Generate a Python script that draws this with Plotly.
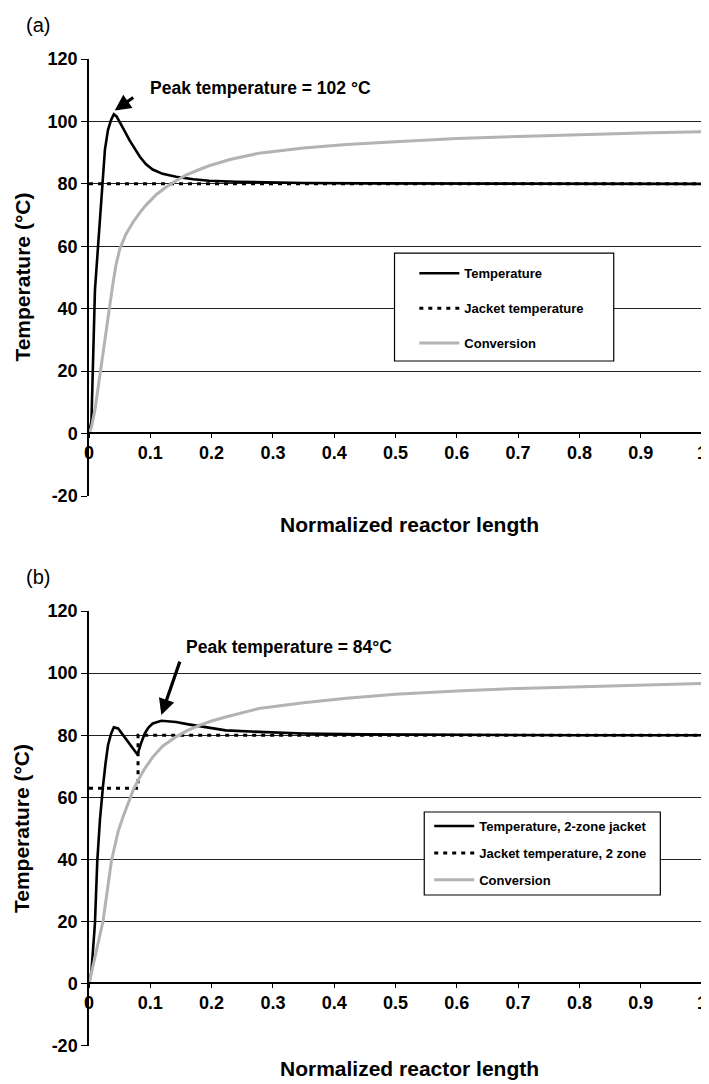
import plotly.graph_objects as go

# ---------------- data: panel (a) ----------------
a_temp_x = [0, 0.004, 0.0097, 0.015, 0.0178, 0.022, 0.026, 0.031, 0.036, 0.0405, 0.045, 0.050,
            0.058, 0.066, 0.075, 0.083, 0.093, 0.104, 0.12, 0.142, 0.17, 0.196, 0.24, 0.277,
            0.35, 0.45, 0.6, 0.8, 1.0]
a_temp_y = [0, 4, 46, 62, 69.5, 80, 91, 97.3, 100.5, 102.3, 101.6, 100,
            97, 94, 91, 88.7, 86.3, 84.6, 83.2, 82.3, 81.5, 81.0, 80.7, 80.5,
            80.3, 80.15, 80.05, 80.0, 80.0]
a_jacket_x = [0, 1.0]
a_jacket_y = [80, 80]
a_conv_x = [0, 0.004, 0.01, 0.018, 0.026, 0.034, 0.039, 0.044, 0.05, 0.06, 0.072, 0.083, 0.093,
            0.11, 0.126, 0.142, 0.158, 0.18, 0.196, 0.23, 0.277, 0.35, 0.42, 0.5, 0.6, 0.7,
            0.8, 0.9, 1.0]
a_conv_y = [0, 2, 8, 19, 30, 42, 48, 54, 59, 63.8, 67.8, 70.8, 73.2,
            76.6, 79, 81, 82.8, 84.6, 85.8, 87.8, 89.8, 91.5, 92.6, 93.5, 94.5, 95.2,
            95.8, 96.3, 96.7]

# ---------------- data: panel (b) ----------------
b_temp_x = [0, 0.004, 0.0097, 0.0135, 0.0178, 0.0205, 0.023, 0.027, 0.031, 0.036, 0.0405, 0.0475,
            0.054, 0.061, 0.07, 0.079, 0.085, 0.091, 0.097, 0.104, 0.118, 0.142, 0.16, 0.18,
            0.223, 0.277, 0.35, 0.45, 0.6, 0.8, 1.0]
b_temp_y = [0, 4, 19.5, 39.5, 52.6, 60, 64, 71, 76.8, 80.5, 82.6, 82.2,
            80.5, 78.4, 76, 73.8, 77.5, 80.6, 82.5, 83.8, 84.7, 84.3, 83.6, 82.9,
            81.6, 81.1, 80.6, 80.3, 80.1, 80.0, 80.0]
b_jacket_x = [0, 0.08, 0.08, 1.0]
b_jacket_y = [63, 63, 80, 80]
b_conv_x = [0, 0.0097, 0.023, 0.0367, 0.0475, 0.056, 0.064, 0.072, 0.08, 0.09, 0.104, 0.12,
            0.142, 0.16, 0.18, 0.2, 0.223, 0.25, 0.277, 0.35, 0.42, 0.5, 0.6, 0.7, 0.8, 0.9, 1.0]
b_conv_y = [0, 8.5, 20.3, 39.7, 49, 54, 58.5, 62.3, 65.5, 69, 73, 76.5,
            79.5, 81.5, 83.2, 84.6, 85.9, 87.3, 88.6, 90.5, 91.9, 93.2, 94.3, 95.1, 95.7, 96.2, 96.7]

# ---------------- ticks / labels ----------------
x_ticks = [0, 0.1, 0.2, 0.3, 0.4, 0.5, 0.6, 0.7, 0.8, 0.9, 1.0]
x_ticktext = ["0", "0.1", "0.2", "0.3", "0.4", "0.5", "0.6", "0.7", "0.8", "0.9", "1"]
y_ticks = [-20, 0, 20, 40, 60, 80, 100, 120]
y_ticktext = ["-20", "0", "20", "40", "60", "80", "100", "120"]

FONT = "Liberation Sans, Arial, sans-serif"
BLACK = "#000000"
GRAY = "#b3b3b3"

fig = go.Figure()

def add_panel(xa, ya, leg, tx, ty, jx, jy, cx, cy, names, grp):
    fig.add_trace(go.Scatter(x=tx, y=ty, mode="lines", name=names[0], xaxis=xa, yaxis=ya,
                             legend=leg, legendgroup=grp + "1",
                             line=dict(color=BLACK, width=2.6)))
    fig.add_trace(go.Scatter(x=jx, y=jy, mode="lines", name=names[1], xaxis=xa, yaxis=ya,
                             legend=leg, legendgroup=grp + "2",
                             line=dict(color=BLACK, width=3, dash="4px,5px")))
    fig.add_trace(go.Scatter(x=cx, y=cy, mode="lines", name=names[2], xaxis=xa, yaxis=ya,
                             legend=leg, legendgroup=grp + "3",
                             line=dict(color=GRAY, width=3)))

add_panel("x", "y", "legend", a_temp_x, a_temp_y, a_jacket_x, a_jacket_y, a_conv_x, a_conv_y,
          ["Temperature", "Jacket temperature", "Conversion"], "a")
add_panel("x2", "y2", "legend2", b_temp_x, b_temp_y, b_jacket_x, b_jacket_y, b_conv_x, b_conv_y,
          ["Temperature, 2-zone jacket", "Jacket temperature, 2 zone", "Conversion"], "b")

tickfont = dict(family=FONT, size=18, color=BLACK, weight=700)

def xaxis_cfg(pos, overflow):
    return dict(domain=[0, 1], range=[0, 1], anchor="free", position=pos,
                showline=True, linecolor=BLACK, linewidth=1.5,
                ticks="outside", ticklen=4, tickcolor=BLACK, tickwidth=1,
                tickvals=x_ticks, ticktext=x_ticktext, tickfont=tickfont,
                ticklabeloverflow=overflow,
                showgrid=False, zeroline=False)

def yaxis_cfg(dom, xa):
    return dict(domain=dom, range=[-20, 120], anchor=xa,
                showline=True, linecolor=BLACK, linewidth=1.5,
                ticks="outside", ticklen=6, tickcolor=BLACK, tickwidth=1,
                tickvals=y_ticks, ticktext=y_ticktext, tickfont=tickfont,
                showgrid=True, gridcolor="#222222", gridwidth=1, zeroline=False)

legfont = dict(family=FONT, size=13, color=BLACK, weight=700)

fig.update_layout(
    width=701, height=1076,
    margin=dict(l=81, r=2, t=51, b=38),
    paper_bgcolor="white", plot_bgcolor="white",
    xaxis=xaxis_cfg(0.6211, "hide past div"),
    yaxis=yaxis_cfg([0.5572, 1.0], "x"),
    xaxis2=xaxis_cfg(0.0638, "allow"),
    yaxis2=yaxis_cfg([0.0, 0.4407], "x2"),
    legend=dict(x=0.5307, y=0.798, xanchor="left", yanchor="top",
                bgcolor="rgba(0,0,0,0)", borderwidth=0, font=legfont, itemwidth=40,
                traceorder="grouped", tracegroupgap=15),
    legend2=dict(x=0.5550, y=0.238, xanchor="left", yanchor="top",
                 bgcolor="rgba(0,0,0,0)", borderwidth=0, font=legfont, itemwidth=40,
                 traceorder="grouped", tracegroupgap=7),
    showlegend=True,
)

# legend frames and right border of panel (b)
fig.add_shape(type="rect", xref="paper", yref="paper", x0=0.4984, x1=0.8560, y0=0.6940, y1=0.8034,
              line=dict(color=BLACK, width=1.2), fillcolor="white", layer="above")
fig.add_shape(type="rect", xref="paper", yref="paper", x0=0.5469, x1=0.9320, y0=0.1530, y1=0.2371,
              line=dict(color=BLACK, width=1.2), fillcolor="white", layer="above")
fig.add_shape(type="line", xref="x2", yref="y2", x0=1, x1=1, y0=-20, y1=120,
              line=dict(color="#999999", width=1.2), layer="above")

titlefont = dict(family=FONT, size=21, color=BLACK, weight=700)
annfont = dict(family=FONT, size=17.5, color=BLACK, weight=700)
labfont = dict(family=FONT, size=20, color=BLACK)

anns = [
    dict(text="(a)", x=-0.1068, y=1.0344, xref="paper", yref="paper", xanchor="left",
         yanchor="middle", showarrow=False, font=labfont),
    dict(text="(b)", x=-0.1068, y=0.4752, xref="paper", yref="paper", xanchor="left",
         yanchor="middle", showarrow=False, font=labfont),
    dict(text="Temperature (°C)", x=-0.110, y=0.7791, xref="paper", yref="paper",
         xanchor="center", yanchor="middle",
         textangle=-90, showarrow=False, font=titlefont),
    dict(text="Temperature (°C)", x=-0.110, y=0.2204, xref="paper", yref="paper",
         xanchor="center", yanchor="middle",
         textangle=-90, showarrow=False, font=titlefont),
    dict(text="Normalized reactor length", x=0.523, y=0.5279, xref="paper", yref="paper",
         xanchor="center", yanchor="middle", showarrow=False, font=titlefont),
    dict(text="Normalized reactor length", x=0.523, y=-0.0223, xref="paper", yref="paper",
         xanchor="center", yanchor="middle", showarrow=False, font=titlefont),
    dict(text="Peak temperature = 102 °C", x=0.0955, y=0.9706, xref="paper", yref="paper",
         xanchor="left", yanchor="middle", showarrow=False, font=annfont),
    dict(text="Peak temperature = 84°C", x=0.1553, y=0.4043, xref="paper", yref="paper",
         xanchor="left", yanchor="middle", showarrow=False, font=annfont),
    dict(text="", x=0.042, y=103.5, xref="x", yref="y", ax=20, ay=-14, showarrow=True,
         arrowhead=2, arrowsize=1, arrowwidth=3.2, arrowcolor=BLACK, standoff=0),
    dict(text="", x=0.118, y=86.5, xref="x2", yref="y2", ax=19, ay=-55, showarrow=True,
         arrowhead=2, arrowsize=1, arrowwidth=3.2, arrowcolor=BLACK, standoff=0),
]
fig.update_layout(annotations=anns)

fig.write_html("out.html")
